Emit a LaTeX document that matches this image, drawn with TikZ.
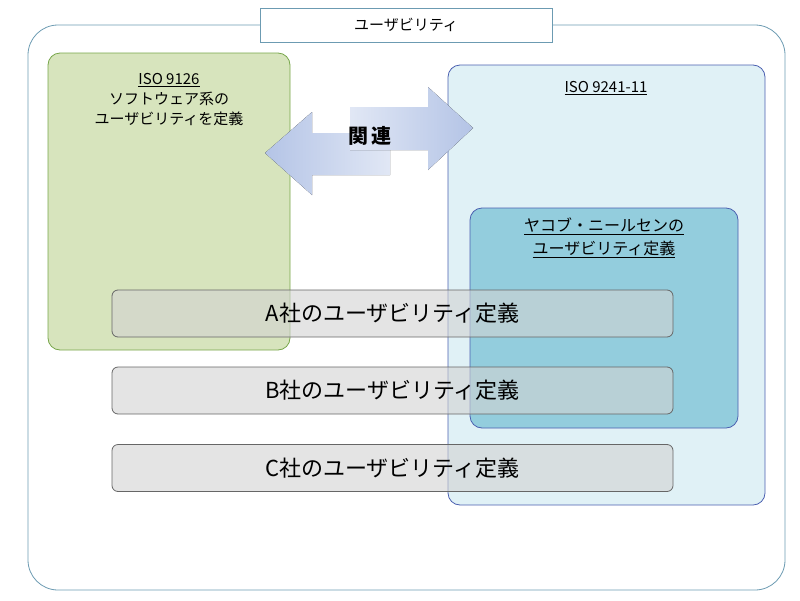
\documentclass[tikz,border=0pt]{standalone}
\usepackage{fontspec}
\setmainfont{Noto Sans CJK JP}
\usetikzlibrary{shadings}
\definecolor{frame}{HTML}{6C9BB2}
\definecolor{isogreen}{HTML}{D7E4BD}
\definecolor{isogreenl}{HTML}{77A64A}
\definecolor{isoblue}{HTML}{DBEEF4}
\definecolor{isobluel}{HTML}{4A5FB0}
\definecolor{nielsen}{HTML}{93CDDD}
\definecolor{arrowc}{HTML}{B4C4E6}
\tikzset{
  area/.style={draw, rounded corners=12pt, line width=0.8pt},
  company/.style={draw=gray!80!black, fill=gray!35, fill opacity=0.6, text opacity=1,
    rounded corners=6pt, line width=0.8pt, minimum width=561pt, minimum height=47pt,
    font=\fontsize{22}{22}\selectfont},
  bigarrow/.style={left color=arrowc, right color=arrowc!40, draw=none}
}
\begin{document}
\begin{tikzpicture}[x=1pt,y=-1pt]
    \useasboundingbox (0,0) rectangle (800,600);
    \draw [area, draw=frame, rounded corners=30pt] (28,25) rectangle (785,590);
    \node [draw=frame, fill=white, minimum width=292pt, minimum height=34pt, line width=0.8pt,
      font=\fontsize{15}{15}\selectfont] (title) at (406,25) {ユーザビリティ};

    \draw [area, draw=isogreenl, fill=isogreen] (48,53) rectangle (290,350);
    \node [align=center, font=\fontsize{15}{20}\selectfont] (iso9126) at (169,100)
      {\underline{ISO 9126}\\ソフトウェア系の\\ユーザビリティを定義};

    \draw [area, draw=isobluel, fill=isoblue, fill opacity=0.85] (448,65) rectangle (765,505);
    \node [font=\fontsize{15}{15}\selectfont] (iso9241) at (606,88) {\underline{ISO 9241-11}};

    \draw [area, draw=isobluel, fill=nielsen] (470,208) rectangle (738,428);
    \node [align=center, font=\fontsize{16}{23}\selectfont] (jakob) at (604,238)
      {\underline{ヤコブ・ニールセンの}\\\underline{ユーザビリティ定義}};

    % arrows
    \fill [bigarrow] (265,153) -- (312,112) -- (312,133) -- (390,133) -- (390,175)
      -- (312,175) -- (312,195) -- cycle;
    \fill [bigarrow, left color=arrowc!40, right color=arrowc] (350,107) -- (428,107) -- (428,87)
      -- (473,128) -- (428,170) -- (428,150) -- (350,150) -- cycle;
    \node [font=\fontsize{20}{20}\selectfont\bfseries] (rel) at (370,136) {関\,連};

    \node [company] (a) at (392.5,313.5) {A社のユーザビリティ定義};
    \node [company] (b) at (392.5,390.5) {B社のユーザビリティ定義};
    \node [company] (c) at (392.5,468) {C社のユーザビリティ定義};
\end{tikzpicture}
\end{document}
